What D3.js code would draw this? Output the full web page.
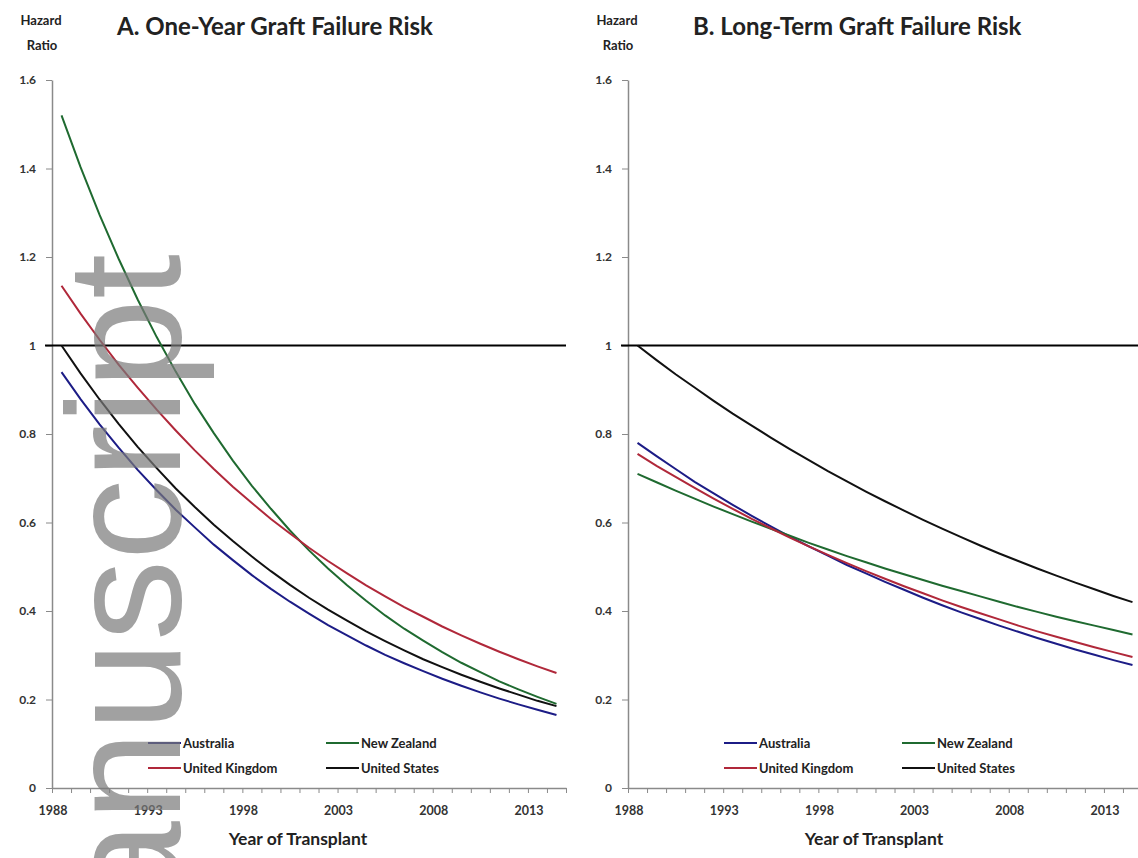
<!DOCTYPE html>
<html lang="en">
<head>
<meta charset="UTF-8">
<title>Graft Failure Risk</title>
<style>
  *{margin:0;padding:0;}
  body{background:#fff;}
  svg text{font-family:Lato, "Liberation Sans", sans-serif;}
</style>
</head>
<body>
<div id="container"></div>
<script src="https://cdn.jsdelivr.net/npm/d3@7"></script>
<script>
// categories
var years = [1988,1989,1990,1991,1992,1993,1994,1995,1996,1997,1998,1999,2000,2001,
             2002,2003,2004,2005,2006,2007,2008,2009,2010,2011,2012,2013,2014]
var tickYears = [1988, 1993, 1998, 2003, 2008, 2013]
var yTicks = [0, 0.2, 0.4, 0.6, 0.8, 1, 1.2, 1.4, 1.6]
var countries = ['Australia', 'New Zealand', 'United Kingdom', 'United States']

// A. one-year graft failure risk (hazard ratio)
var oneYearAustralia = [0.940,0.879,0.822,0.769,0.719,0.673,0.629,0.589,0.550,0.515,0.481,0.450,0.421,0.394,
                        0.368,0.345,0.322,0.301,0.282,0.264,0.247,0.231,0.216,0.202,0.189,0.177,0.165]
var oneYearNewZealand = [1.520,1.403,1.295,1.196,1.104,1.019,0.941,0.868,0.802,0.740,0.683,0.631,0.582,0.537,
                         0.496,0.458,0.423,0.390,0.360,0.333,0.307,0.283,0.262,0.241,0.223,0.206,0.190]
var oneYearUK = [1.135,1.072,1.013,0.957,0.905,0.855,0.808,0.763,0.721,0.681,0.644,0.608,0.575,0.543,
                 0.513,0.485,0.458,0.433,0.409,0.387,0.365,0.345,0.326,0.308,0.291,0.275,0.260]
var oneYearUS = [1.000,0.937,0.878,0.823,0.771,0.723,0.677,0.635,0.595,0.558,0.523,0.490,0.459,0.430,
                 0.403,0.378,0.354,0.332,0.311,0.291,0.273,0.256,0.240,0.225,0.211,0.197,0.185]

// B. long-term graft failure risk
var longTermAustralia = [0.780,0.750,0.721,0.692,0.666,0.640,0.615,0.591,0.568,0.546,0.525,0.504,0.485,0.466,
                         0.448,0.430,0.413,0.397,0.382,0.367,0.353,0.339,0.326,0.313,0.301,0.289,0.278]
var longTermNewZealand = [0.710,0.691,0.672,0.654,0.636,0.619,0.602,0.586,0.570,0.554,0.539,0.524,0.510,0.496,
                          0.483,0.470,0.457,0.445,0.433,0.421,0.409,0.398,0.387,0.377,0.367,0.357,0.347]
var longTermUK = [0.755,0.728,0.703,0.678,0.654,0.631,0.608,0.587,0.566,0.546,0.527,0.508,0.490,0.473,
                  0.456,0.440,0.424,0.409,0.395,0.381,0.367,0.354,0.342,0.330,0.318,0.307,0.296]
var longTermUS = [1.000,0.967,0.935,0.905,0.875,0.846,0.819,0.792,0.766,0.741,0.716,0.693,0.670,0.648,
                  0.627,0.606,0.586,0.567,0.548,0.530,0.513,0.496,0.480,0.464,0.449,0.434,0.420]

var colors = {'Australia':'#1c1c86', 'New Zealand':'#1f6a30', 'United Kingdom':'#b0283a', 'United States':'#111'}

var W = 1138, H = 858
var svg = d3.select('#container').append('svg').attr('width', W).attr('height', H)

var y = d3.scaleLinear().domain([0, 1.6]).range([788, 80])

function drawPanel(off, title, series){
  var g = svg.append('g').attr('transform', `translate(${off},0)`)
  var x = d3.scaleLinear().domain([years[0] - 0.5, years[years.length-1] + 0.5]).range([52, 566])

  // x axis: year boundary ticks, then labels every 5 years
  var xg = g.append('g').attr('transform', 'translate(0,788)')
    .call(d3.axisBottom(x).tickValues(years.map(function(d){return d - 0.5}).concat([2014.5]))
      .tickFormat('').tickSize(5).tickSizeOuter(0))
  xg.select('.domain').attr('stroke', '#8a8a8a').attr('stroke-width', 1.5)
  xg.selectAll('.tick line').attr('stroke', '#8a8a8a')
  var xl = g.append('g').attr('transform', 'translate(0,788)')
    .call(d3.axisBottom(x).tickValues(tickYears).tickFormat(d3.format('d')).tickSize(0).tickPadding(18))
  xl.select('.domain').remove()
  xl.selectAll('text').attr('font-size', 12.5).attr('dx', -9).attr('fill', '#333')
    .attr('font-weight', 'bold').style('font-family', 'Lato')

  // y axis
  var yg = g.append('g').attr('transform', 'translate(52,0)')
    .call(d3.axisLeft(y).tickValues(yTicks).tickFormat(function(d){return String(+d.toFixed(1))})
      .tickSize(6).tickSizeOuter(0).tickPadding(10))
  yg.select('.domain').attr('stroke', '#8a8a8a').attr('stroke-width', 1.5)
  yg.selectAll('.tick line').attr('stroke', '#8a8a8a')
  yg.selectAll('text').attr('font-size', 12).attr('fill', '#333')
    .attr('font-weight', 'bold').style('font-family', 'Lato')

  // reference line at HR = 1
  g.append('line').attr('x1', 45).attr('x2', 566).attr('y1', y(1)).attr('y2', y(1))
    .attr('stroke', '#000').attr('stroke-width', 2)

  var line = d3.line().x(function(d, i){return x(years[i])}).y(function(d){return y(d)})
  countries.forEach(function(c){
    g.append('path').attr('d', line(series[c]))
      .attr('fill', 'none').attr('stroke', colors[c]).attr('stroke-width', 2)
  })

  // titles
  g.append('text').attr('x', 41).attr('y', 25).attr('text-anchor', 'middle')
    .attr('font-size', 13).attr('font-weight', 'bold').attr('fill', '#222').text('Hazard')
  g.append('text').attr('x', 42).attr('y', 50).attr('text-anchor', 'middle')
    .attr('font-size', 13).attr('font-weight', 'bold').attr('fill', '#222').text('Ratio')
  g.append('text').attr('x', 117).attr('y', 35)
    .attr('font-size', 24).attr('font-weight', 'bold').attr('fill', '#222').text(title)
  g.append('text').attr('x', 298).attr('y', 845).attr('text-anchor', 'middle')
    .attr('font-size', 17.5).attr('font-weight', 'bold').attr('fill', '#222').text('Year of Transplant')

  // legend
  var lx = [148, 326], ly = [743, 768]
  countries.forEach(function(c, i){
    var lg = g.append('g').attr('transform', `translate(${lx[i % 2]},${ly[Math.floor(i / 2)]})`)
    lg.append('line').attr('x1', 0).attr('x2', 33).attr('stroke', colors[c]).attr('stroke-width', 2)
    lg.append('text').attr('x', 35).attr('dy', '0.35em').attr('font-size', 13)
      .attr('font-weight', 'bold').attr('fill', '#222').text(c)
  })
}

drawPanel(0, 'A. One-Year Graft Failure Risk', {
  'Australia': oneYearAustralia, 'New Zealand': oneYearNewZealand,
  'United Kingdom': oneYearUK, 'United States': oneYearUS})
drawPanel(576, 'B. Long-Term Graft Failure Risk', {
  'Australia': longTermAustralia, 'New Zealand': longTermNewZealand,
  'United Kingdom': longTermUK, 'United States': longTermUS})

// "Author Manuscript" watermark over panel A
svg.append('text').attr('transform', 'translate(180,254) rotate(-90)')
  .attr('text-anchor', 'end').attr('font-size', 162)
  .style('font-family', '"Liberation Sans", Arial, sans-serif')
  .attr('fill', '#7a7a7a').attr('opacity', 0.7).text('Author Manuscript')
</script>
</body>
</html>
